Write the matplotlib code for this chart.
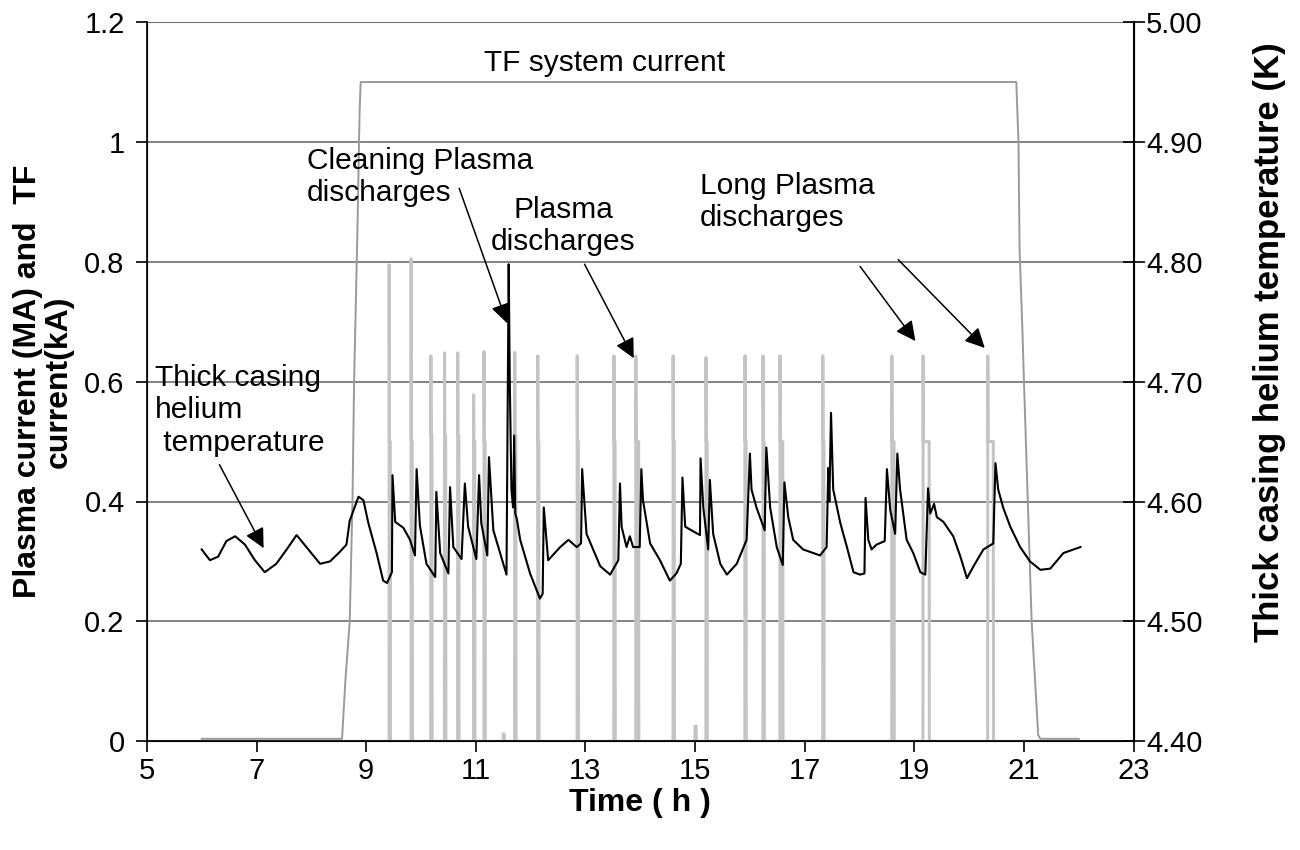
import matplotlib
matplotlib.use("Agg")
import matplotlib.pyplot as plt
import numpy as np

plt.rcParams["font.family"] = ["Liberation Sans", "DejaVu Sans"]

# Corriente TF (kA)
tf_time = [6.00, 8.56, 8.62, 8.70, 8.75, 8.78, 8.84, 8.88, 8.90, 20.86, 20.90,
           20.92, 20.97, 21.00, 21.07, 21.14, 21.26, 21.30, 22.00]
tf_current = [0.004, 0.004, 0.10, 0.20, 0.40, 0.60, 0.85, 1.05, 1.10, 1.10, 1.00,
              0.82, 0.69, 0.60, 0.40, 0.20, 0.01, 0.004, 0.004]

# Descargas de plasma: instante, pico (MA), meseta (MA), duracion (h)
pulse_time = [9.42, 9.82, 10.18, 10.43, 10.67, 10.96, 11.15, 11.50, 11.71, 12.13, 12.85,
              13.52, 13.92, 14.60, 15.00, 15.20, 15.91, 16.24, 16.55, 17.33, 18.59,
              19.16, 20.34]
pulse_peak = [0.795, 0.805, 0.643, 0.648, 0.648, 0.578, 0.650, 0.012, 0.649, 0.643, 0.643,
              0.643, 0.643, 0.643, 0.025, 0.640, 0.643, 0.643, 0.643, 0.643, 0.643,
              0.643, 0.643]
pulse_plateau = [0.50, 0.50, 0.51, 0.51, 0.51, 0.50, 0.50, 0.012, 0.51, 0.50, 0.50,
                 0.50, 0.50, 0.50, 0.025, 0.50, 0.50, 0.50, 0.50, 0.50, 0.50,
                 0.50, 0.50]
pulse_length = [0.02, 0.02, 0.02, 0.02, 0.02, 0.02, 0.02, 0.02, 0.02, 0.02, 0.02,
                0.02, 0.05, 0.02, 0.02, 0.02, 0.02, 0.02, 0.05, 0.02, 0.04,
                0.11, 0.10]

# Temperatura helio carcasa gruesa (K)
temp_time = [6.00, 6.15, 6.30, 6.45, 6.61, 6.79, 6.97, 7.15, 7.36, 7.55, 7.73, 7.91,
             8.16, 8.34, 8.52, 8.64, 8.70, 8.86, 8.95, 9.04, 9.19, 9.31, 9.38, 9.47,
             9.48, 9.53, 9.68, 9.80, 9.89, 9.92, 9.98, 10.10, 10.26, 10.28, 10.35, 10.50,
             10.53, 10.59, 10.74, 10.80, 10.86, 11.01, 11.06, 11.10, 11.21, 11.24, 11.32,
             11.56, 11.60, 11.62, 11.65, 11.68, 11.70, 11.72, 11.75, 11.81, 11.99, 12.17,
             12.22, 12.24, 12.32, 12.54, 12.69, 12.84, 12.92, 12.94, 13.02, 13.27, 13.45,
             13.60, 13.63, 13.66, 13.75, 13.81, 13.87, 13.99, 14.02, 14.05, 14.18, 14.36,
             14.54, 14.66, 14.74, 14.77, 14.82, 14.97, 15.09, 15.10, 15.15, 15.24, 15.27,
             15.33, 15.46, 15.58, 15.76, 15.94, 16.00, 16.03, 16.12, 16.27, 16.30, 16.37,
             16.49, 16.60, 16.63, 16.70, 16.79, 16.97, 17.28, 17.40, 17.43, 17.45, 17.48,
             17.52, 17.65, 17.77, 17.89, 18.01, 18.09, 18.11, 18.16, 18.22, 18.31, 18.46,
             18.50, 18.56, 18.65, 18.69, 18.74, 18.86, 18.98, 19.11, 19.20, 19.25, 19.29,
             19.36, 19.41, 19.53, 19.71, 19.84, 19.96, 20.08, 20.26, 20.44, 20.48, 20.53,
             20.62, 20.75, 20.93, 21.11, 21.30, 21.48, 21.72, 22.03]
temp_k = [4.560, 4.551, 4.554, 4.567, 4.571, 4.564, 4.551, 4.541, 4.548, 4.560, 4.572, 4.562,
          4.548, 4.550, 4.558, 4.564, 4.584, 4.604, 4.601, 4.582, 4.557, 4.534, 4.532, 4.541,
          4.622, 4.583, 4.578, 4.568, 4.555, 4.627, 4.580, 4.548, 4.537, 4.608, 4.557, 4.540,
          4.612, 4.562, 4.552, 4.615, 4.579, 4.552, 4.622, 4.582, 4.555, 4.637, 4.576,
          4.539, 4.798, 4.700, 4.610, 4.595, 4.655, 4.590, 4.585, 4.568, 4.540, 4.519,
          4.523, 4.595, 4.551, 4.562, 4.568, 4.562, 4.565, 4.627, 4.573, 4.546, 4.539,
          4.551, 4.615, 4.579, 4.562, 4.571, 4.562, 4.562, 4.627, 4.601, 4.565, 4.551,
          4.534, 4.540, 4.548, 4.620, 4.579, 4.575, 4.572, 4.636, 4.595, 4.560, 4.618,
          4.573, 4.548, 4.539, 4.548, 4.568, 4.640, 4.610, 4.595, 4.576, 4.645, 4.595,
          4.562, 4.547, 4.616, 4.587, 4.568, 4.560, 4.555, 4.562, 4.628, 4.600, 4.674,
          4.610, 4.582, 4.562, 4.541, 4.539, 4.540, 4.603, 4.568, 4.560, 4.564, 4.567,
          4.627, 4.593, 4.573, 4.640, 4.610, 4.568, 4.557, 4.541, 4.539, 4.611, 4.590,
          4.598, 4.587, 4.583, 4.571, 4.554, 4.536, 4.546, 4.560, 4.565, 4.632, 4.610,
          4.595, 4.579, 4.562, 4.550, 4.543, 4.544, 4.557, 4.562]

x_ticks = [5, 7, 9, 11, 13, 15, 17, 19, 21, 23]
left_ticks = [0, 0.2, 0.4, 0.6, 0.8, 1.0, 1.2]
left_labels = ["0", "0.2", "0.4", "0.6", "0.8", "1", "1.2"]
right_ticks = [4.40, 4.50, 4.60, 4.70, 4.80, 4.90, 5.00]

# Construir la serie de corriente de plasma con los pulsos
pl_t = [6.0]
pl_v = [0.0]
for t, pk, pt, d in zip(pulse_time, pulse_peak, pulse_plateau, pulse_length):
    pl_t += [t - 0.002, t, t + 0.004, t + d, t + d + 0.004]
    pl_v += [0.0, pk, pt, pt, 0.0]
pl_t.append(22.0)
pl_v.append(0.0)

FS = 21      # numeros de los ejes
FL = 23      # titulos de ejes
FA = 21.5    # anotaciones

fig, ax = plt.subplots(figsize=(13, 8.5), dpi=100)
fig.subplots_adjust(left=0.113, right=0.872, top=0.974, bottom=0.128)

ax.set_xlim(5, 23)
ax.set_ylim(0, 1.2)
ax.set_yticks(left_ticks)
ax.set_yticklabels(left_labels)
ax.set_xticks(x_ticks)
ax.yaxis.grid(True, color="#6e6e6e", linewidth=1.2)
ax.set_axisbelow(True)
ax.tick_params(axis="both", labelsize=FS, direction="out", length=8, width=1.2)
ax.tick_params(axis="y", pad=8)
ax.spines["top"].set_color("#6e6e6e")
for s in ["left", "bottom"]:
    ax.spines[s].set_linewidth(1.2)

ax.plot(pl_t, pl_v, color="#c4c4c4", linewidth=2.2, zorder=2)
ax.plot(tf_time, tf_current, color="#9a9a9a", linewidth=1.4, zorder=3)

ax2 = ax.twinx()
ax2.set_ylim(4.40, 5.00)
ax2.set_yticks(right_ticks)
ax2.set_yticklabels(["%.2f" % v for v in right_ticks])
ax2.tick_params(axis="y", labelsize=FS, direction="inout", length=16, width=1.2, pad=1)
ax2.spines["right"].set_linewidth(1.5)
ax2.spines["top"].set_visible(False)
ax2.plot(temp_time, temp_k, color="black", linewidth=1.5)

ax.set_xlabel("Time ( h )", fontsize=FL, fontweight="bold", va="center")
ax.xaxis.set_label_coords(0.4995, -0.086)
ax.set_ylabel("Plasma current (MA) and  TF\ncurrent(kA)", fontsize=FL,
              fontweight="bold", linespacing=1.0, va="center")
ax.yaxis.set_label_coords(-0.105, 0.5)
ax2.set_ylabel("Thick casing helium temperature (K)", fontsize=25,
               fontweight="bold", va="center")
ax2.yaxis.set_label_coords(1.138, 0.555)

# Anotaciones
arrow = dict(arrowstyle="-|>", color="black", lw=1.1, mutation_scale=30)
ax.text(13.34, 1.132, "TF system current", fontsize=FA, ha="center", va="center")
ax.text(7.92, 0.942, "Cleaning Plasma\ndischarges", fontsize=FA, ha="left", va="center")
ax.annotate("", xy=(11.59, 0.693), xytext=(10.68, 0.927), arrowprops=arrow)
ax.text(12.59, 0.86, "Plasma\ndischarges", fontsize=FA, ha="center", va="center")
ax.annotate("", xy=(13.905, 0.635), xytext=(12.96, 0.80), arrowprops=arrow)
ax.text(15.09, 0.90, "Long Plasma\ndischarges", fontsize=FA, ha="left", va="center")
ax.annotate("", xy=(19.05, 0.664), xytext=(17.98, 0.796), arrowprops=arrow)
ax.annotate("", xy=(20.32, 0.653), xytext=(18.67, 0.807), arrowprops=arrow)
ax.text(5.146, 0.552, "Thick casing\nhelium\n temperature", fontsize=FA, ha="left", va="center")
ax.annotate("", xy=(7.153, 0.318), xytext=(6.30, 0.4655), arrowprops=arrow)

plt.savefig("out.png", dpi=100)
